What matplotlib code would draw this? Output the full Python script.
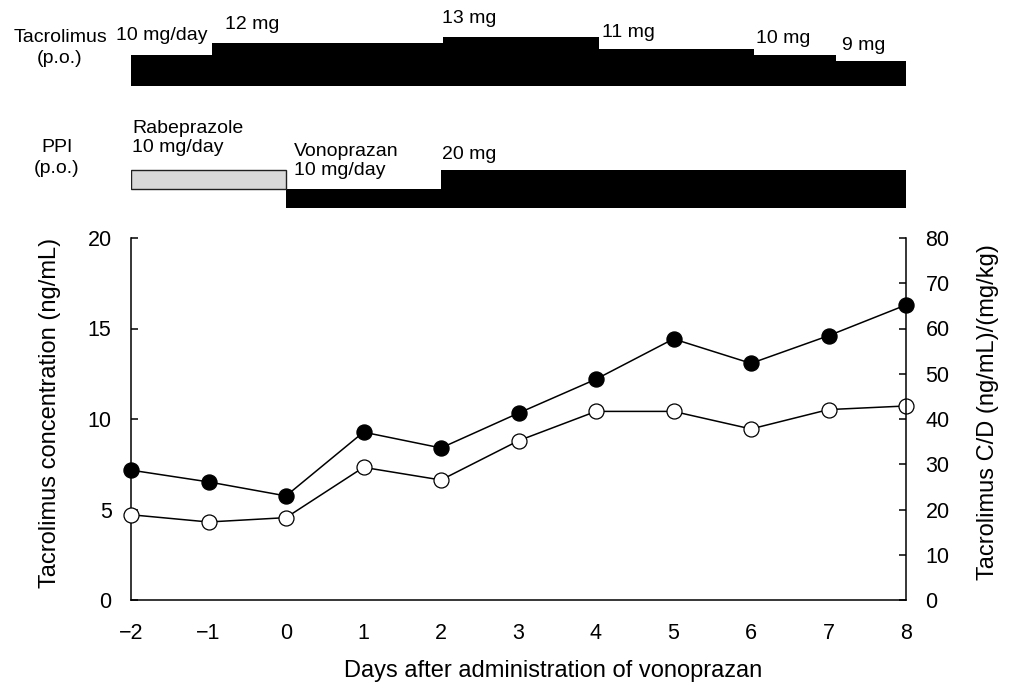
import numpy as np
import matplotlib
matplotlib.use('Agg')
import matplotlib.pyplot as plt

plt.rcParams['font.family'] = ['Liberation Sans', 'DejaVu Sans']

# data
days = [-2, -1, 0, 1, 2, 3, 4, 5, 6, 7, 8]
conc = [4.71, 4.31, 4.55, 7.33, 6.63, 8.80, 10.42, 10.42, 9.45, 10.52, 10.72]
cd_ratio = [28.7, 26.1, 23.0, 37.1, 33.6, 41.3, 48.8, 57.7, 52.3, 58.4, 65.2]

tac_edges = [-2, -0.95, 2.03, 4.04, 6.04, 7.1, 8.03]
tac_dose = [10, 12, 13, 11, 10, 9]
tac_text = ['10 mg/day', '12 mg', '13 mg', '11 mg', '10 mg', '9 mg']

vono_edges = [0, 2, 8]
vono_dose = [10, 20]
vono_text = ['Vonoprazan\n10 mg/day', '20 mg']
rabe_edges = [-2, 0]
rabe_dose = 10
rabe_text = 'Rabeprazole\n10 mg/day'

W, H = 1011, 682
fig = plt.figure(figsize=(W / 100, H / 100), dpi=100)


def rect(x0, y_top, x1, y_bot):
    return [x0 / W, 1 - y_bot / H, (x1 - x0) / W, (y_bot - y_top) / H]


PX = 0.72  # points per pixel

# --- tacrolimus dosing panel ---
tac_ax = fig.add_axes(rect(131, 26, 906, 86))
base = 4.78
starts = np.array(tac_edges[:-1])
widths = np.diff(tac_edges)
tac_ax.bar(starts, np.array(tac_dose) - base, width=widths, bottom=base,
           align='edge', color='black', linewidth=0)
tac_ax.set_xlim(-2, 8)
tac_ax.set_ylim(base, base + 10)
tac_ax.axis('off')
tac_dx = [-14.6, 12.4, -1.6, 2.4, 2.0, 5.4]
tac_dy = [14.3, 14.0, 13.4, 11.7, 11.6, 10.7]
for s, d, t, dx, dy in zip(starts, tac_dose, tac_text, tac_dx, tac_dy):
    tac_ax.annotate(t, xy=(s, d), xytext=(dx * PX, dy * PX),
                    textcoords='offset points', ha='left', va='baseline',
                    fontsize=14, annotation_clip=False)

# --- PPI panel ---
ppi_ax = fig.add_axes(rect(131, 148.3, 906, 208.3))
ppi_ax.set_xlim(-2, 8)
ppi_ax.set_ylim(0, 31.6)
ppi_ax.axis('off')
v_starts = np.array(vono_edges[:-1])
ppi_ax.bar(v_starts, vono_dose, width=np.diff(vono_edges), align='edge',
           color='black', linewidth=0)
ppi_ax.bar(rabe_edges[0], rabe_dose, width=rabe_edges[1] - rabe_edges[0],
           bottom=vono_dose[0], align='edge', color='#d9d9d9',
           edgecolor='#202020', linewidth=1.0)
ppi_ax.annotate(rabe_text, xy=(rabe_edges[0], vono_dose[0] + rabe_dose),
                xytext=(1.4 * PX, 18 * PX), textcoords='offset points',
                ha='left', va='baseline', fontsize=14, annotation_clip=False)
for s, d, t, dx, dy in zip(v_starts, vono_dose, vono_text, [7.7, 1.3], [14, 11]):
    ppi_ax.annotate(t, xy=(s, d), xytext=(dx * PX, dy * PX),
                    textcoords='offset points', ha='left', va='baseline',
                    fontsize=14, annotation_clip=False)

fig.text(60 / W, 1 - 48 / H, 'Tacrolimus\n(p.o.)', ha='center', va='center',
         ma='center', fontsize=14, linespacing=1.35)
fig.text(57 / W, 1 - 158 / H, 'PPI\n(p.o.)', ha='center', va='center',
         ma='center', fontsize=14, linespacing=1.35)

# --- main plot ---
ax = fig.add_axes(rect(131, 238, 906, 600))
ax2 = ax.twinx()
lw = 1.1
ax2.plot(days, cd_ratio, '-o', color='black', lw=lw, markersize=10.8,
         markerfacecolor='black', markeredgecolor='black', clip_on=False,
         zorder=3)
ax.plot(days, conc, '-o', color='black', lw=lw, markersize=10.8,
        markerfacecolor='white', markeredgecolor='black', markeredgewidth=0.9,
        clip_on=False, zorder=3)

ax.set_xlim(-2, 8)
ax.set_ylim(0, 20)
ax2.set_ylim(0, 80)
ax.set_xticks(days)
ax.set_yticks(np.arange(0, 21, 5))
ax2.set_yticks(np.arange(0, 81, 10))

for a in (ax, ax2):
    a.spines['top'].set_visible(False)
    for sp in a.spines.values():
        sp.set_linewidth(1.1)
ax.spines['right'].set_visible(False)
ax2.spines['left'].set_visible(False)
ax2.spines['bottom'].set_visible(False)

ax.tick_params(axis='y', direction='in', length=5, width=1.1, pad=14,
               labelsize=15.5)
ax.tick_params(axis='x', length=0, pad=16.5, labelsize=15.5)
ax2.tick_params(axis='y', direction='in', length=5, width=1.1, pad=14,
                labelsize=15.5)

fig.text(50 / W, 1 - 413 / H, 'Tacrolimus concentration (ng/mL)',
         rotation=90, ha='center', va='center', fontsize=17)
fig.text(988 / W, 1 - 412 / H, 'Tacrolimus C/D (ng/mL)/(mg/kg)',
         rotation=90, ha='center', va='center', fontsize=17)
fig.text(553 / W, 1 - 677 / H, 'Days after administration of vonoprazan',
         ha='center', va='baseline', fontsize=17)

fig.savefig('out.png', dpi=100)
